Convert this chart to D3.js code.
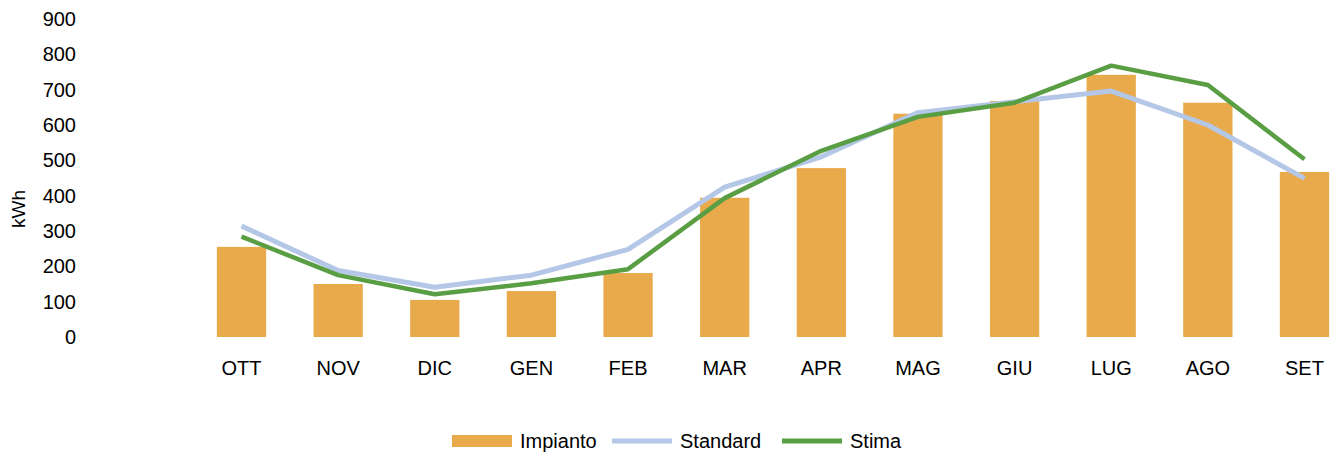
<!DOCTYPE html>
<html><head><meta charset="utf-8">
<script src="https://cdn.jsdelivr.net/npm/d3@7"></script>
<style>html,body{margin:0;padding:0;background:#fff;overflow:hidden}svg{display:block}text{font-family:"Liberation Sans",Arial,sans-serif;fill:#000}</style>
</head><body>
<svg id="c" width="1330" height="452"></svg>
<script>
const categories = ["OTT","NOV","DIC","GEN","FEB","MAR","APR","MAG","GIU","LUG","AGO","SET"];
const impianto = [255,150,105,130,181,394,478,632,668,742,663,467];
const standard = [314,188,141,175,248,424,510,635,666,696,600,449];
const stima    = [284,175,121,152,192,393,527,623,663,768,713,503];
const yTicks = [0,100,200,300,400,500,600,700,800,900];
const seriesNames = ["Impianto","Standard","Stima"];
const colors = {Impianto:"#E9AA4B", Standard:"#B4C7E7", Stima:"#5A9E44"};

const svg = d3.select("#c");
const x = d3.scaleBand().domain(categories).range([193.2,1352.8]).paddingInner(0.49).paddingOuter(0.245);
const y = d3.scaleLinear().domain([0,900]).range([337,19]);

// bars
svg.append("g").selectAll("rect").data(impianto).join("rect")
  .attr("x",(d,i)=>x(categories[i])).attr("width",x.bandwidth())
  .attr("y",d=>y(d)).attr("height",d=>y(0)-y(d)).attr("fill",colors.Impianto);

const line = d3.line().x((d,i)=>x(categories[i])+x.bandwidth()/2).y(d=>y(d));
svg.append("path").datum(standard).attr("d",line).attr("fill","none")
  .attr("stroke",colors.Standard).attr("stroke-width",5).attr("stroke-linejoin","round");
svg.append("path").datum(stima).attr("d",line).attr("fill","none")
  .attr("stroke",colors.Stima).attr("stroke-width",4.5).attr("stroke-linejoin","round");

// y axis
const ya = svg.append("g").attr("transform","translate(76,0)")
  .call(d3.axisLeft(y).tickValues(yTicks).tickSize(0).tickPadding(0));
ya.select(".domain").remove();
ya.selectAll("text").style("font-size","20px").style("font-family","Liberation Sans, Arial, sans-serif").attr("fill","#000");

// x axis
const xa = svg.append("g").attr("transform","translate(0,375)")
  .call(d3.axisBottom(x).tickSize(0).tickPadding(0));
xa.select(".domain").remove();
xa.selectAll("text").style("font-size","20px").style("font-family","Liberation Sans, Arial, sans-serif").attr("fill","#000").attr("y",0).attr("dy","0");

// y title
svg.append("text").attr("transform","translate(25,209) rotate(-90)").attr("text-anchor","middle")
  .style("font-size","19px").text("kWh");

// legend
const legX = [452,612,782];
const lg = svg.append("g").selectAll("g").data(seriesNames).join("g")
  .attr("transform",(d,i)=>`translate(${legX[i]},441)`);
lg.each(function(d){
  const g = d3.select(this);
  if(d==="Impianto") g.append("rect").attr("x",0).attr("y",-6).attr("width",60).attr("height",12).attr("fill",colors[d]);
  else g.append("line").attr("x1",0).attr("x2",60).attr("y1",0).attr("y2",0).attr("stroke",colors[d]).attr("stroke-width",5);
  g.append("text").attr("x",68).attr("y",7).style("font-size","20px").text(d);
});
</script>
</body></html>
